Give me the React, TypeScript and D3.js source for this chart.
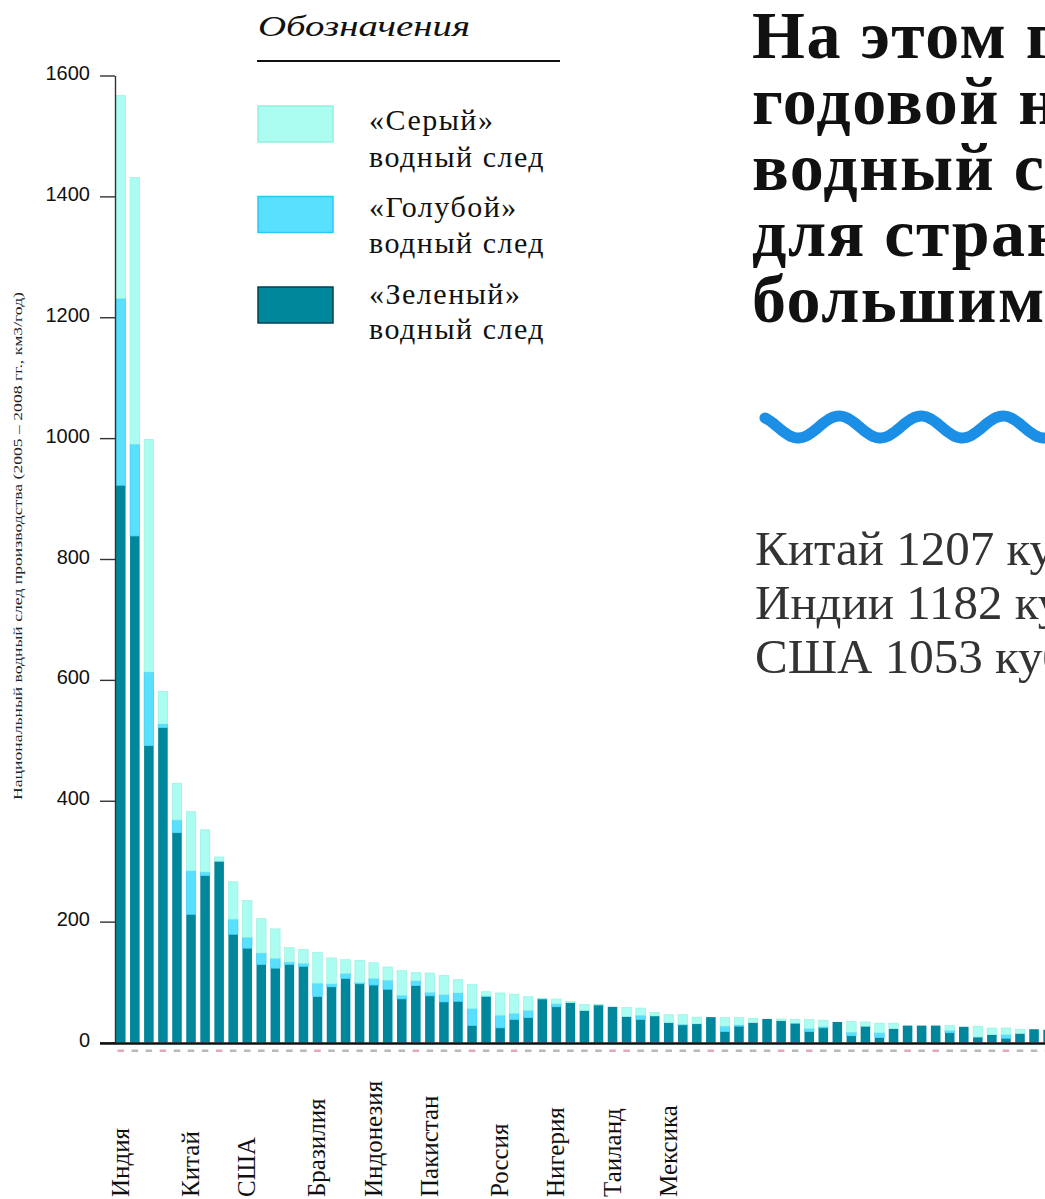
import React, { useRef, useEffect } from "react";
import * as d3 from "d3";

// stacked components per country, km3/year
const green = [922, 838, 491, 521, 347, 212, 276, 300, 179, 156, 129, 123, 129, 126, 76, 92, 106, 97, 95, 88, 72, 94, 77, 67, 68, 28, 76, 24, 38, 41, 72, 59, 66, 53, 62, 59, 43, 38, 44, 33, 29, 31, 42, 18, 27, 33, 39, 36, 32, 18, 24, 34, 11, 27, 8, 23, 28, 28, 28, 16, 26, 9, 13, 7, 15, 22, 21];
const blue = [309, 152, 122, 6, 21, 72, 6, 0, 25, 18, 19, 16, 4, 5, 22, 5, 8, 2, 11, 15, 6, 8, 6, 12, 14, 28, 1, 21, 10, 12, 0, 5, 0, 0, 0, 0, 0, 7, 0, 0, 1, 0, 0, 9, 2, 0, 0, 0, 0, 5, 2, 0, 6, 0, 8, 0, 0, 0, 0, 4, 0, 0, 0, 6, 0, 0, 0];
const grey = [336, 441, 385, 54, 61, 98, 70, 7, 62, 61, 57, 49, 24, 23, 51, 43, 23, 37, 26, 22, 41, 14, 32, 32, 22, 40, 7, 37, 32, 23, 1, 8, 2, 10, 1, 0, 15, 12, 6, 13, 16, 11, 0, 14, 12, 7, 0, 3, 6, 15, 11, 0, 18, 7, 16, 9, 0, 0, 0, 8, 0, 18, 11, 11, 7, 0, 0];

const countryLabels = ["Индия", "Китай", "США", "Бразилия", "Индонезия", "Пакистан", "Россия", "Нигерия", "Таиланд", "Мексика"];
const countryBar = [0, 5, 9, 14, 18, 22, 27, 31, 35, 39];

const yTicks = [0, 200, 400, 600, 800, 1000, 1200, 1400, 1600];

const legendItems = [
  { key: "grey", name: "«Серый»", fill: "#aafdf0", stroke: "#97eedd" },
  { key: "blue", name: "«Голубой»", fill: "#5ae0ff", stroke: "#2cc8f4" },
  { key: "green", name: "«Зеленый»", fill: "#00879b", stroke: "#003f55" },
];

const titleLines = ["На этом графике показан", "годовой национальный", "водный след производства", "для стран с самым", "большим водным следом"];
const bodyLines = ["Китай 1207 кубических километров,", "Индии 1182 кубических километров,", "США 1053 кубических километров"];

const W = 1045;
const H = 1199;

const App = () => {
  const svgRef = useRef<SVGSVGElement>(null);

  useEffect(() => {
    const svg = d3.select(svgRef.current);
    svg.selectAll("*").remove();

    const n = green.length;
    const rows = green.map((g, i) => ({ idx: i, green: g, blue: blue[i], grey: grey[i] }));
    const series = d3.stack<any>().keys(["green", "blue", "grey"])(rows);

    const x = d3
      .scaleBand<number>()
      .domain(d3.range(n))
      .range([116, 116 + 14.05 * (n - 0.32)])
      .paddingInner(0.32)
      .paddingOuter(0);
    const y = d3.scaleLinear().domain([0, 1600]).range([1042.5, 75.5]);

    const colorOf: Record<string, any> = {};
    legendItems.forEach((d) => (colorOf[d.key] = d));

    // bars
    svg
      .append("g")
      .selectAll("g")
      .data(series)
      .join("g")
      .attr("fill", (s) => colorOf[s.key].fill)
      .selectAll("rect")
      .data((s) => s.map((d: any) => ({ d, key: s.key })))
      .join("rect")
      .attr("x", (p: any) => x(p.d.data.idx)!)
      .attr("width", x.bandwidth())
      .attr("y", (p: any) => y(p.d[1]))
      .attr("height", (p: any) => Math.max(0, y(p.d[0]) - y(p.d[1])))
      .attr("stroke", (p: any) => (p.key === "green" ? "none" : colorOf[p.key].stroke))
      .attr("stroke-width", 0.6);

    // y axis
    const yAxis = svg
      .append("g")
      .attr("transform", "translate(115,0)")
      .call(
        d3
          .axisLeft(y)
          .tickValues(yTicks)
          .tickFormat(d3.format("d"))
          .tickSize(15)
          .tickSizeOuter(0)
          .tickPadding(10)
      );
    yAxis.select(".domain").attr("stroke", "#333").attr("stroke-width", 1.4);
    yAxis.selectAll(".tick line").attr("stroke", "#333").attr("stroke-width", 1.4);
    yAxis
      .selectAll(".tick text")
      .attr("font-family", "'Liberation Sans', Arial, sans-serif")
      .attr("font-size", 20)
      .attr("fill", "#111")
      .attr("dy", "0.2em");

    // baseline
    svg
      .append("line")
      .attr("x1", 100)
      .attr("x2", W)
      .attr("y1", y(0) + 1)
      .attr("y2", y(0) + 1)
      .attr("stroke", "#111")
      .attr("stroke-width", 2.6);

    // tiny unreadable labels under each bar
    svg
      .append("g")
      .selectAll("rect")
      .data(d3.range(n))
      .join("rect")
      .attr("x", (i) => x(i)! + 1.5)
      .attr("y", y(0) + 7)
      .attr("width", x.bandwidth() - 3)
      .attr("height", 2.5)
      .attr("fill", (i) => (i % 7 === 0 || i % 11 === 3 ? "#e4a7b4" : "#b8b8b8"));

    // country labels
    svg
      .append("g")
      .selectAll("text")
      .data(countryLabels)
      .join("text")
      .attr("transform", (d, i) => `translate(${x(countryBar[i])! + x.bandwidth() / 2 + 8},1197) rotate(-90)`)
      .attr("font-family", "'Liberation Serif', 'Times New Roman', serif")
      .attr("font-size", 25)
      .attr("fill", "#111")
      .text((d) => d);

    // y axis title
    svg
      .append("text")
      .attr("transform", `translate(22,546) rotate(-90)`)
      .attr("text-anchor", "middle")
      .attr("font-family", "'Liberation Serif', 'Times New Roman', serif")
      .attr("font-size", 12)
      .attr("fill", "#222")
      .attr("textLength", 508)
      .attr("lengthAdjust", "spacingAndGlyphs")
      .text("Национальный водный след производства (2005 – 2008 гг., км3/год)");

    // legend
    const lg = svg.append("g");
    lg.append("text")
      .attr("x", 258)
      .attr("y", 36)
      .attr("font-family", "'Liberation Serif', 'Times New Roman', serif")
      .attr("font-style", "italic")
      .attr("font-size", 29)
      .attr("fill", "#111")
      .attr("textLength", 212)
      .attr("lengthAdjust", "spacingAndGlyphs")
      .text("Обозначения");
    lg.append("line")
      .attr("x1", 257)
      .attr("x2", 560)
      .attr("y1", 61)
      .attr("y2", 61)
      .attr("stroke", "#111")
      .attr("stroke-width", 2);
    const items = lg
      .selectAll("g.item")
      .data(legendItems)
      .join("g")
      .attr("class", "item");
    items
      .append("rect")
      .attr("x", 258)
      .attr("y", (d, i) => 106 + i * 90.5)
      .attr("width", 75)
      .attr("height", 36)
      .attr("fill", (d) => d.fill)
      .attr("stroke", (d) => d.stroke)
      .attr("stroke-width", 1.5);
    const itemText = items
      .append("text")
      .attr("font-family", "'Liberation Serif', 'Times New Roman', serif")
      .attr("font-size", 30)
      .attr("letter-spacing", 1.5)
      .attr("fill", "#111");
    itemText
      .append("tspan")
      .attr("x", 369)
      .attr("y", (d, i) => 130 + i * 87)
      .text((d) => d.name);
    itemText
      .append("tspan")
      .attr("x", 369)
      .attr("y", (d, i) => 167 + i * 86)
      .text("водный след");

    // title on the right
    svg
      .append("g")
      .selectAll("text")
      .data(titleLines)
      .join("text")
      .attr("x", 752)
      .attr("y", (d, i) => 58 + i * 66)
      .attr("font-family", "'Liberation Serif', 'Times New Roman', serif")
      .attr("font-weight", "bold")
      .attr("font-size", 68)
      .attr("letter-spacing", 1.5)
      .attr("fill", "#111")
      .text((d) => d);

    // decorative wave
    const wx = d3.range(765, 1080, 2);
    svg
      .append("path")
      .datum(wx)
      .attr("fill", "none")
      .attr("stroke", "#1b8fe6")
      .attr("stroke-width", 11)
      .attr("stroke-linecap", "round")
      .attr(
        "d",
        d3
          .line<number>()
          .x((d) => d)
          .y((d) => 427 - 11 * Math.cos(((d - 765) / 82) * 2 * Math.PI + 0.6))
          .curve(d3.curveBasis)
      );

    // body text
    svg
      .append("g")
      .selectAll("text")
      .data(bodyLines)
      .join("text")
      .attr("x", 755)
      .attr("y", (d, i) => 565 + i * 54)
      .attr("font-family", "'Liberation Serif', 'Times New Roman', serif")
      .attr("font-size", 49)
      .attr("fill", "#333")
      .text((d) => d);
  }, []);

  return (
    <div style={{ position: "absolute", left: 0, top: 0, width: W, height: H, overflow: "hidden", background: "#fff" }}>
      <svg ref={svgRef} width={W} height={H} style={{ display: "block" }} />
    </div>
  );
};

export default App;
